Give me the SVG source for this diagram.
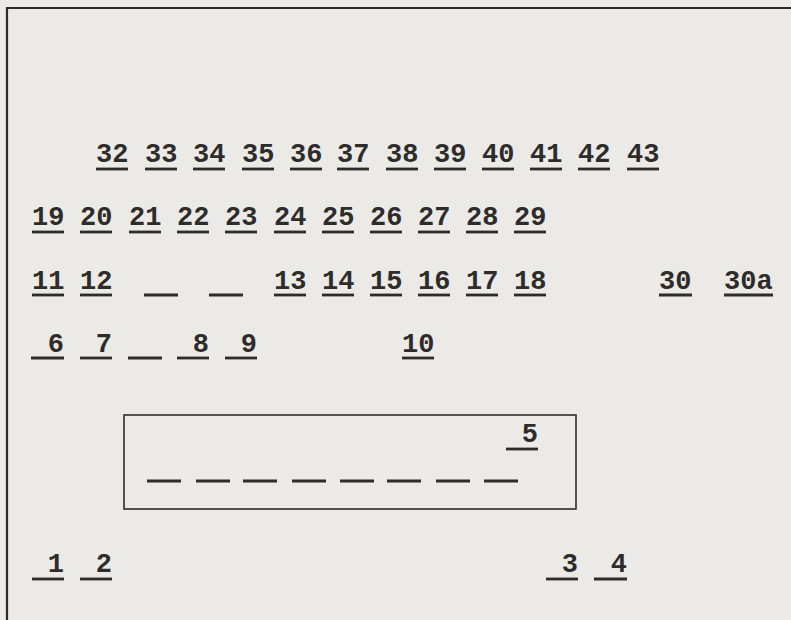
<svg xmlns="http://www.w3.org/2000/svg" width="791" height="620" viewBox="0 0 791 620">
<style>
.t{font-family:"Liberation Mono","Courier New",monospace;font-weight:bold;font-size:27px;fill:#2e2c2b}
.e{text-anchor:end}
.u{stroke:#2e2c2b;stroke-width:2.8;fill:none}
.f{stroke:#2e2c2b;stroke-width:2.2;fill:none}
.b{stroke:#2e2c2b;stroke-width:1.6;fill:none}
</style>
<rect width="791" height="620" fill="#ebeae6"/>
<path class="f" d="M7,620 V8 H791"/>
<g id="row1">
<g id="n32"><text class="t" x="96" y="162">32</text><line class="u" x1="96" y1="169" x2="128" y2="169"/></g>
<g id="n33"><text class="t" x="145" y="162">33</text><line class="u" x1="145" y1="169" x2="177" y2="169"/></g>
<g id="n34"><text class="t" x="193" y="162">34</text><line class="u" x1="193" y1="169" x2="225" y2="169"/></g>
<g id="n35"><text class="t" x="242" y="162">35</text><line class="u" x1="242" y1="169" x2="274" y2="169"/></g>
<g id="n36"><text class="t" x="290" y="162">36</text><line class="u" x1="290" y1="169" x2="322" y2="169"/></g>
<g id="n37"><text class="t" x="337" y="162">37</text><line class="u" x1="337" y1="169" x2="369" y2="169"/></g>
<g id="n38"><text class="t" x="386" y="162">38</text><line class="u" x1="386" y1="169" x2="418" y2="169"/></g>
<g id="n39"><text class="t" x="434" y="162">39</text><line class="u" x1="434" y1="169" x2="466" y2="169"/></g>
<g id="n40"><text class="t" x="482" y="162">40</text><line class="u" x1="482" y1="169" x2="514" y2="169"/></g>
<g id="n41"><text class="t" x="530" y="162">41</text><line class="u" x1="530" y1="169" x2="562" y2="169"/></g>
<g id="n42"><text class="t" x="578" y="162">42</text><line class="u" x1="578" y1="169" x2="610" y2="169"/></g>
<g id="n43"><text class="t" x="627" y="162">43</text><line class="u" x1="627" y1="169" x2="659" y2="169"/></g>
</g>
<g id="row2">
<g id="n19"><text class="t" x="32" y="225">19</text><line class="u" x1="32" y1="232" x2="64" y2="232"/></g>
<g id="n20"><text class="t" x="80" y="225">20</text><line class="u" x1="80" y1="232" x2="112" y2="232"/></g>
<g id="n21"><text class="t" x="129" y="225">21</text><line class="u" x1="129" y1="232" x2="161" y2="232"/></g>
<g id="n22"><text class="t" x="177" y="225">22</text><line class="u" x1="177" y1="232" x2="209" y2="232"/></g>
<g id="n23"><text class="t" x="225" y="225">23</text><line class="u" x1="225" y1="232" x2="257" y2="232"/></g>
<g id="n24"><text class="t" x="274" y="225">24</text><line class="u" x1="274" y1="232" x2="306" y2="232"/></g>
<g id="n25"><text class="t" x="322" y="225">25</text><line class="u" x1="322" y1="232" x2="354" y2="232"/></g>
<g id="n26"><text class="t" x="370" y="225">26</text><line class="u" x1="370" y1="232" x2="402" y2="232"/></g>
<g id="n27"><text class="t" x="418" y="225">27</text><line class="u" x1="418" y1="232" x2="450" y2="232"/></g>
<g id="n28"><text class="t" x="466" y="225">28</text><line class="u" x1="466" y1="232" x2="498" y2="232"/></g>
<g id="n29"><text class="t" x="514" y="225">29</text><line class="u" x1="514" y1="232" x2="546" y2="232"/></g>
</g>
<g id="row3">
<g id="n11"><text class="t" x="32" y="289">11</text><line class="u" x1="32" y1="295" x2="64" y2="295"/></g>
<g id="n12"><text class="t" x="80" y="289">12</text><line class="u" x1="80" y1="295" x2="112" y2="295"/></g>
<g id="blank3a"><line class="u" x1="144" y1="295" x2="178" y2="295"/></g>
<g id="blank3b"><line class="u" x1="209" y1="295" x2="243" y2="295"/></g>
<g id="n13"><text class="t" x="274" y="289">13</text><line class="u" x1="274" y1="295" x2="306" y2="295"/></g>
<g id="n14"><text class="t" x="322" y="289">14</text><line class="u" x1="322" y1="295" x2="354" y2="295"/></g>
<g id="n15"><text class="t" x="370" y="289">15</text><line class="u" x1="370" y1="295" x2="402" y2="295"/></g>
<g id="n16"><text class="t" x="418" y="289">16</text><line class="u" x1="418" y1="295" x2="450" y2="295"/></g>
<g id="n17"><text class="t" x="466" y="289">17</text><line class="u" x1="466" y1="295" x2="498" y2="295"/></g>
<g id="n18"><text class="t" x="514" y="289">18</text><line class="u" x1="514" y1="295" x2="546" y2="295"/></g>
<g id="n30"><text class="t" x="659" y="289">30</text><line class="u" x1="659" y1="295" x2="692" y2="295"/></g>
<g id="n30a"><text class="t" x="724" y="289">30a</text><line class="u" x1="724" y1="295" x2="773" y2="295"/></g>
</g>
<g id="row4">
<g id="n6"><text class="t e" x="64" y="352">6</text><line class="u" x1="31" y1="358" x2="64" y2="358"/></g>
<g id="n7"><text class="t e" x="112" y="352">7</text><line class="u" x1="80" y1="358" x2="112" y2="358"/></g>
<g id="blank4"><line class="u" x1="128" y1="358" x2="162" y2="358"/></g>
<g id="n8"><text class="t e" x="209" y="352">8</text><line class="u" x1="177" y1="358" x2="209" y2="358"/></g>
<g id="n9"><text class="t e" x="257" y="352">9</text><line class="u" x1="225" y1="358" x2="257" y2="358"/></g>
<g id="n10"><text class="t" x="402" y="352">10</text><line class="u" x1="402" y1="358" x2="434" y2="358"/></g>
</g>
<g id="box">
<rect class="b" x="124" y="415" width="452" height="94"/>
<g id="n5"><text class="t e" x="538" y="442">5</text><line class="u" x1="506" y1="449" x2="538" y2="449"/></g>
<g id="dashes">
<line class="u" x1="147" y1="481" x2="181" y2="481"/>
<line class="u" x1="196" y1="481" x2="230" y2="481"/>
<line class="u" x1="243" y1="481" x2="277" y2="481"/>
<line class="u" x1="292" y1="481" x2="326" y2="481"/>
<line class="u" x1="340" y1="481" x2="374" y2="481"/>
<line class="u" x1="387" y1="481" x2="421" y2="481"/>
<line class="u" x1="436" y1="481" x2="470" y2="481"/>
<line class="u" x1="484" y1="481" x2="518" y2="481"/>
</g>
</g>
<g id="row6">
<g id="n1"><text class="t e" x="64" y="572">1</text><line class="u" x1="32" y1="579" x2="64" y2="579"/></g>
<g id="n2"><text class="t e" x="112" y="572">2</text><line class="u" x1="80" y1="579" x2="112" y2="579"/></g>
<g id="n3"><text class="t e" x="578" y="572">3</text><line class="u" x1="546" y1="579" x2="578" y2="579"/></g>
<g id="n4"><text class="t e" x="627" y="572">4</text><line class="u" x1="594" y1="579" x2="627" y2="579"/></g>
</g>
</svg>
